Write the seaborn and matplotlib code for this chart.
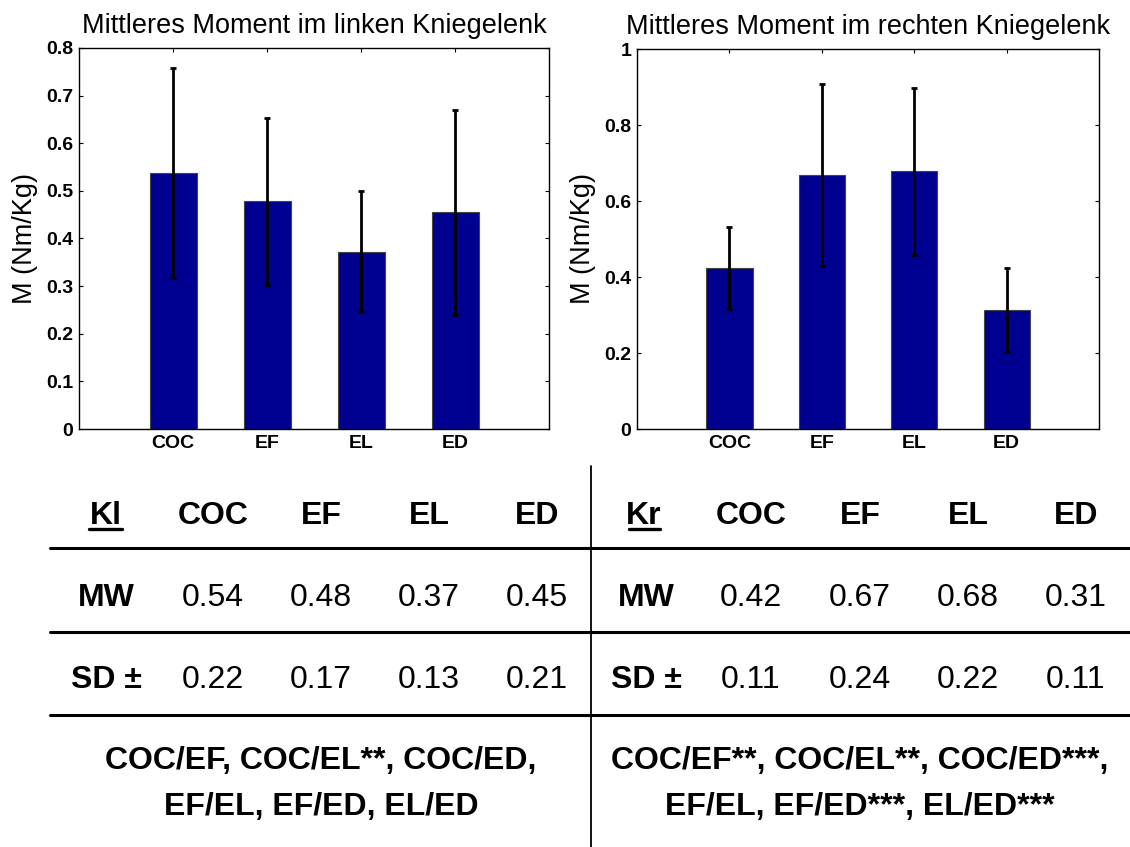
import matplotlib
matplotlib.use("Agg")
import matplotlib.pyplot as plt
import seaborn as sns
import pandas as pd
from matplotlib.lines import Line2D

# ---------------- data ----------------
categories = ["COC", "EF", "EL", "ED"]
left_mean = [0.538, 0.478, 0.372, 0.455]
left_sd = [0.220, 0.175, 0.127, 0.215]
right_mean = [0.423, 0.668, 0.678, 0.313]
right_sd = [0.108, 0.240, 0.220, 0.110]

left_title = "Mittleres Moment im linken Kniegelenk"
right_title = "Mittleres Moment im rechten Kniegelenk"
ylabel = "M (Nm/Kg)"
left_yticks = [0, 0.1, 0.2, 0.3, 0.4, 0.5, 0.6, 0.7, 0.8]
left_yticklabels = ["0", "0.1", "0.2", "0.3", "0.4", "0.5", "0.6", "0.7", "0.8"]
right_yticks = [0, 0.2, 0.4, 0.6, 0.8, 1.0]
right_yticklabels = ["0", "0.2", "0.4", "0.6", "0.8", "1"]

table_left_head = "Kl"
table_right_head = "Kr"
table_mw_label = "MW"
table_sd_label = "SD ±"
left_mw_text = ["0.54", "0.48", "0.37", "0.45"]
left_sd_text = ["0.22", "0.17", "0.13", "0.21"]
right_mw_text = ["0.42", "0.67", "0.68", "0.31"]
right_sd_text = ["0.11", "0.24", "0.22", "0.11"]
left_sig = ["COC/EF, COC/EL**, COC/ED,", "EF/EL, EF/ED, EL/ED"]
right_sig = ["COC/EF**, COC/EL**, COC/ED***,", "EF/EL, EF/ED***, EL/ED***"]

# ---------------- style ----------------
sns.set_style("ticks")
plt.rcParams["font.family"] = ["Liberation Sans", "DejaVu Sans"]
for k in ["text.color", "axes.labelcolor", "xtick.color", "ytick.color",
          "axes.edgecolor"]:
    plt.rcParams[k] = "black"

W, H = 1130, 847
fig = plt.figure(figsize=(W / 100, H / 100), dpi=100)

BAR = "#000090"


def panel(rect, means, sds, title, yticks, yticklabels, ymax):
    ax = fig.add_axes(rect)
    df = pd.DataFrame({"cat": categories, "val": means})
    sns.barplot(data=df, x="cat", y="val", color=BAR, saturation=1,
                width=0.5, edgecolor="#444444", linewidth=0.8,
                errorbar=None, ax=ax)
    ax.errorbar(range(len(categories)), means, yerr=sds, fmt="none",
                ecolor="black", elinewidth=2.0, capsize=2.5, capthick=2.0,
                zorder=5)
    ax.set_xlim(-1, 4)
    ax.set_ylim(0, ymax)
    ax.set_yticks(yticks)
    ax.set_yticklabels(yticklabels, fontsize=14, fontweight="bold")
    ax.set_xticks(range(len(categories)))
    ax.set_xticklabels(categories, fontsize=14, fontweight="bold")
    ax.set_xlabel("")
    ax.set_ylabel(ylabel, fontsize=19.5, labelpad=6)
    ax.set_title(title, fontsize=19.5, pad=11)
    for s in ax.spines.values():
        s.set_visible(True)
        s.set_linewidth(1.0)
        s.set_color("black")
    ax.tick_params(direction="in", length=3, width=0.8, top=True,
                   right=True, pad=4, colors="black")
    return ax


panel([79 / W, 1 - 429 / H, 470 / W, 381 / H], left_mean, left_sd,
      left_title, left_yticks, left_yticklabels, 0.8)
panel([637 / W, 1 - 429 / H, 462 / W, 380 / H], right_mean, right_sd,
      right_title, right_yticks, right_yticklabels, 1.0)

# ---------------- table ----------------
tab = fig.add_axes([0, 0, 1, 1])
tab.set_xlim(0, W)
tab.set_ylim(H, 0)
tab.axis("off")
tab.patch.set_alpha(0)

lw = 2.2
for yy in [548, 632, 715]:
    tab.add_line(Line2D([50, W], [yy, yy], color="black", lw=lw))
tab.add_line(Line2D([591, 591], [466, H], color="black", lw=1.3))

FS = 23
left_cols = [213, 321, 429, 537]
right_cols = [751, 860, 968, 1076]
rows_y = [524, 606, 688]

# header
tab.text(106, rows_y[0], table_left_head, ha="center", va="baseline",
         fontsize=FS, fontweight="bold")
tab.add_line(Line2D([89, 122], [529, 529], color="black", lw=2.4))
tab.text(644, rows_y[0], table_right_head, ha="center", va="baseline",
         fontsize=FS, fontweight="bold")
tab.add_line(Line2D([629, 660], [529, 529], color="black", lw=2.4))
for cx, c in zip(left_cols, categories):
    tab.text(cx, rows_y[0], c, ha="center", va="baseline", fontsize=FS,
             fontweight="bold")
for cx, c in zip(right_cols, categories):
    tab.text(cx, rows_y[0], c, ha="center", va="baseline", fontsize=FS,
             fontweight="bold")

# MW / SD rows
for label, vals_l, vals_r, yy in [
        (table_mw_label, left_mw_text, right_mw_text, rows_y[1]),
        (table_sd_label, left_sd_text, right_sd_text, rows_y[2])]:
    tab.text(106, yy, label, ha="center", va="baseline", fontsize=FS,
             fontweight="bold")
    tab.text(646, yy, label, ha="center", va="baseline", fontsize=FS,
             fontweight="bold")
    for cx, v in zip(left_cols, vals_l):
        tab.text(cx, yy, v, ha="center", va="baseline", fontsize=FS)
    for cx, v in zip(right_cols, vals_r):
        tab.text(cx, yy, v, ha="center", va="baseline", fontsize=FS)

# significance rows
for yy, tl, tr in zip([769, 815], left_sig, right_sig):
    tab.text(321, yy, tl, ha="center", va="baseline", fontsize=FS,
             fontweight="bold")
    tab.text(860, yy, tr, ha="center", va="baseline", fontsize=FS,
             fontweight="bold")

fig.savefig("out.png", dpi=100, facecolor="white")
